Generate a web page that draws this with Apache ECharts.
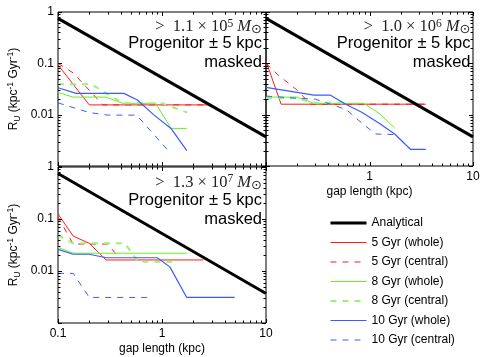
<!DOCTYPE html>
<html><head><meta charset="utf-8">
<script src="https://cdn.jsdelivr.net/npm/echarts@6/dist/echarts.min.js"></script>
<style>html,body{margin:0;padding:0;background:#fff}#c{width:485px;height:357px}</style>
</head><body><div id="c"></div>
<script>
// ---- tick labels / tick positions ----
const xTickLabels = ['0.1', '1', '10'];
const yTickLabels = ['1', '0.1', '0.01'];
const xMajorTicks = [0.1, 1, 10];
const xMinorTicks = [0.2, 0.3, 0.4, 0.5, 0.6, 0.7, 0.8, 0.9, 2, 3, 4, 5, 6, 7, 8, 9];
const yMajorTicks = [0.001, 0.01, 0.1, 1];
const yMinorTicks = [0.002, 0.003, 0.004, 0.005, 0.006, 0.007, 0.008, 0.009,
                     0.02, 0.03, 0.04, 0.05, 0.06, 0.07, 0.08, 0.09,
                     0.2, 0.3, 0.4, 0.5, 0.6, 0.7, 0.8, 0.9];

// ---- legend names ----
const seriesNames = ['Analytical', '5 Gyr (whole)', '5 Gyr (central)', '8 Gyr (whole)',
                     '8 Gyr (central)', '10 Gyr (whole)', '10 Gyr (central)'];

// ---- panel annotations ----
const panelMass = ['1.1', '1.0', '1.3'];
const panelExp = ['5', '6', '7'];

// ---- data: analytical ----
const analytical = [[0.1, 0.75], [10, 0.0037]];

// ---- panel 1 (top-left, > 1.1e5) ----
const p1_5w = [[0.1, 0.093], [0.2, 0.0155], [3.0, 0.0155]];
const p1_5c = [[0.1, 0.1], [0.14, 0.065], [0.27, 0.0155], [3.0, 0.0155]];
const p1_8w = [[0.1, 0.027], [0.14, 0.022], [0.29, 0.022], [0.42, 0.0166], [0.87, 0.0166], [1.22, 0.0054], [1.73, 0.0054]];
const p1_8c = [[0.1, 0.039], [0.21, 0.039], [0.42, 0.0166], [1.0, 0.0166], [1.75, 0.011]];
const p1_10w = [[0.1, 0.0335], [0.15, 0.026], [0.43, 0.026], [0.58, 0.0193], [0.84, 0.0098], [1.22, 0.0054], [1.73, 0.002]];
const p1_10c = [[0.1, 0.017], [0.2, 0.011], [0.3, 0.0098], [0.57, 0.0098], [1.2, 0.0018]];

// ---- panel 2 (top-right, > 1.0e6) ----
const p2_5w = [[0.1, 0.11], [0.14, 0.016], [3.5, 0.016]];
const p2_5c = [[0.1, 0.1], [0.13, 0.06], [0.2, 0.03], [0.27, 0.016], [3.5, 0.016]];
const p2_8w = [[0.1, 0.022], [0.2, 0.022], [0.29, 0.0166], [0.88, 0.0166], [1.24, 0.0106], [1.75, 0.0055]];
const p2_8c = [[0.1, 0.021], [0.2, 0.021], [0.28, 0.017], [0.6, 0.017]];
const p2_10w = [[0.1, 0.034], [0.29, 0.024], [0.42, 0.024], [0.59, 0.016], [0.85, 0.011], [1.24, 0.0068], [1.75, 0.0042], [2.5, 0.0021], [3.5, 0.0021]];
const p2_10c = [[0.1, 0.023], [0.2, 0.021], [0.3, 0.02], [0.42, 0.016], [0.6, 0.0125], [0.86, 0.0066], [1.15, 0.0042], [1.75, 0.0041]];

// ---- panel 3 (bottom-left, > 1.3e7) ----
const p3_5w = [[0.1, 0.125], [0.14, 0.047], [0.2, 0.034], [0.29, 0.0163], [2.5, 0.0163]];
const p3_5c = [[0.1, 0.11], [0.14, 0.033], [0.3, 0.033], [0.37, 0.02]];
const p3_8w = [[0.1, 0.0285], [0.14, 0.022], [1.73, 0.022]];
const p3_8c = [[0.1, 0.049], [0.14, 0.034], [0.44, 0.034], [0.59, 0.015], [1.4, 0.015]];
const p3_10w = [[0.1, 0.026], [0.14, 0.021], [0.2, 0.021], [0.29, 0.018], [0.9, 0.018], [1.19, 0.012], [1.73, 0.0031], [5.0, 0.0031]];
const p3_10c = [[0.1, 0.009], [0.14, 0.009], [0.2, 0.0031], [0.82, 0.0031]];

const panelData = [
  [p1_5w, p1_5c, p1_8w, p1_8c, p1_10w, p1_10c],
  [p2_5w, p2_5c, p2_8w, p2_8c, p2_10w, p2_10c],
  [p3_5w, p3_5c, p3_8w, p3_8c, p3_10w, p3_10c]
];

// ---- styles ----
const SANS = '"Liberation Sans", Arial, Helvetica, sans-serif';
const SERIF = '"Liberation Serif", "DejaVu Serif", serif';
const lineStyles = [
  { color: '#ff1a1a', width: 1, type: 'solid' },
  { color: '#ff1a1a', width: 1, type: [6, 6] },
  { color: '#66ee22', width: 1, type: 'solid' },
  { color: '#99f27a', width: 2, type: [6, 6] },
  { color: '#3a5cff', width: 1.2, type: 'solid' },
  { color: '#3a5cff', width: 1, type: [6, 6] }
];

const grids = [
  { left: 58, top: 12, width: 208, height: 154 },
  { left: 266, top: 12, width: 207, height: 154 },
  { left: 58, top: 167, width: 208, height: 156 }
];
const showXLabels = [false, true, true];
const showYLabels = [true, false, true];

function xLabelFmt(panel) {
  return function (v) {
    const idx = Math.round(Math.log10(v)) + 1;
    if (panel === 1 && idx === 0) return '';
    return xTickLabels[idx] || '';
  };
}
function yLabelFmt(v) {
  const idx = -Math.round(Math.log10(v));
  return yTickLabels[idx] || '';
}

function tickRender(params, api) {
  const kind = api.value(2);
  const len = (kind === 0 || kind === 2) ? 4 : 2.5;
  const cs = params.coordSys;
  const st = { stroke: '#000', lineWidth: 1 };
  if (kind < 2) {
    const px = Math.round(api.coord([api.value(0), 0.5])[0]) + 0.5;
    const yb = cs.y + cs.height, yt = cs.y;
    return { type: 'group', children: [
      { type: 'line', shape: { x1: px, y1: yb, x2: px, y2: yb - len }, style: st },
      { type: 'line', shape: { x1: px, y1: yt, x2: px, y2: yt + len }, style: st }
    ] };
  } else {
    const py = Math.round(api.coord([1, api.value(1)])[1]) + 0.5;
    const xl = cs.x, xr = cs.x + cs.width;
    return { type: 'group', children: [
      { type: 'line', shape: { x1: xl, y1: py, x2: xl + len, y2: py }, style: st },
      { type: 'line', shape: { x1: xr, y1: py, x2: xr - len, y2: py }, style: st }
    ] };
  }
}

const tickData = [].concat(
  xMajorTicks.map(v => [v, 0.5, 0]),
  xMinorTicks.map(v => [v, 0.5, 1]),
  yMajorTicks.map(v => [1, v, 2]),
  yMinorTicks.map(v => [1, v, 3])
);

const yName = '{r|R}{sub|U}{r| (kpc}{sup|-1}{r| Gyr}{sup|-1}{r|)}';
const yNameRich = {
  r: { fontSize: 12, fontFamily: SANS, color: '#000', lineHeight: 16 },
  sub: { fontSize: 8.5, fontFamily: SANS, color: '#000', lineHeight: 9, verticalAlign: 'bottom' },
  sup: { fontSize: 8.5, fontFamily: SANS, color: '#000', lineHeight: 9, verticalAlign: 'top' }
};

const xAxes = grids.map((g, i) => ({
  type: 'log', logBase: 10, gridIndex: i, min: 0.1, max: 10,
  axisLine: { show: false }, axisTick: { show: false }, splitLine: { show: false },
  axisLabel: { show: showXLabels[i], margin: 5, fontSize: 12, color: '#000', fontFamily: SANS, formatter: xLabelFmt(i) },
  name: showXLabels[i] ? 'gap length (kpc)' : '',
  nameLocation: 'middle', nameGap: 20,
  nameTextStyle: { fontSize: 12, color: '#000', fontFamily: SANS }
}));
const yAxes = grids.map((g, i) => ({
  type: 'log', logBase: 10, gridIndex: i, min: 0.001, max: 1,
  axisLine: { show: false }, axisTick: { show: false }, splitLine: { show: false },
  axisLabel: { show: showYLabels[i], margin: 4, fontSize: 12, color: '#000', fontFamily: SANS, formatter: yLabelFmt },
  name: showYLabels[i] ? yName : '',
  nameLocation: 'middle', nameGap: 36, nameRotate: 90,
  nameTextStyle: { rich: yNameRich }
}));

const series = [];
for (let p = 0; p < 3; p++) {
  series.push({
    name: seriesNames[0], type: 'line', xAxisIndex: p, yAxisIndex: p, data: analytical,
    symbol: 'none', showSymbol: false, lineStyle: { color: '#000', width: 3 }, itemStyle: { color: '#000' },
    z: 3, animation: false
  });
  panelData[p].forEach((d, k) => {
    const ls = lineStyles[k];
    series.push({
      name: seriesNames[k + 1], type: 'line', xAxisIndex: p, yAxisIndex: p, data: d,
      symbol: 'none', showSymbol: false,
      lineStyle: { color: ls.color, width: ls.width, type: ls.type },
      itemStyle: { color: ls.color }, z: 2, animation: false
    });
  });
  series.push({
    type: 'custom', xAxisIndex: p, yAxisIndex: p, data: tickData, renderItem: tickRender,
    silent: true, clip: false, z: 5, animation: false
  });
}

// annotations
const annotRight = [262, 470.5, 262];
const annotY = [[27, 43.5, 62], [27, 43.5, 62], [182.5, 200, 219.5]];
const graphics = [];
for (let p = 0; p < 3; p++) {
  graphics.push({
    type: 'text', x: annotRight[p], y: annotY[p][0], z: 10,
    style: {
      text: '{m|>  ' + panelMass[p] + ' × 10}{sup|' + panelExp[p] + '}{m| }{it|M}{sub|⊙}',
      align: 'right', verticalAlign: 'middle',
      rich: {
        m: { fontSize: 16.5, fontFamily: SERIF, fill: '#222', lineHeight: 19 },
        sup: { fontSize: 11.5, fontFamily: SERIF, fill: '#222', lineHeight: 12, verticalAlign: 'top' },
        it: { fontSize: 16.5, fontFamily: SERIF, fontStyle: 'italic', fill: '#222', lineHeight: 19 },
        sub: { fontSize: 13, fontFamily: '"DejaVu Sans", sans-serif', fill: '#222', lineHeight: 12, verticalAlign: 'bottom' }
      }
    }
  });
  graphics.push({
    type: 'text', x: annotRight[p], y: annotY[p][1], z: 10,
    style: { text: 'Progenitor ± 5 kpc', align: 'right', verticalAlign: 'middle', fontSize: 16.5, fontFamily: SANS, fill: '#000' }
  });
  graphics.push({
    type: 'text', x: annotRight[p], y: annotY[p][2], z: 10,
    style: { text: 'masked', align: 'right', verticalAlign: 'middle', fontSize: 16.5, fontFamily: SANS, fill: '#000' }
  });
}

const chart = echarts.init(document.getElementById('c'), null, { renderer: 'canvas' });
chart.setOption({
  animation: false,
  backgroundColor: '#fff',
  grid: grids.map(g => Object.assign({ show: true, borderColor: '#000', borderWidth: 1, backgroundColor: 'transparent', containLabel: false }, g)),
  xAxis: xAxes,
  yAxis: yAxes,
  legend: {
    data: seriesNames, orient: 'vertical', left: 329, top: 217, padding: 0,
    itemWidth: 36, itemHeight: 12, itemGap: 7.5,
    itemStyle: { opacity: 0 },
    lineStyle: { width: 'inherit' },
    textStyle: { fontSize: 12, color: '#000', fontFamily: SANS },
    selectedMode: false
  },
  series: series,
  graphic: graphics
});
</script></body></html>
